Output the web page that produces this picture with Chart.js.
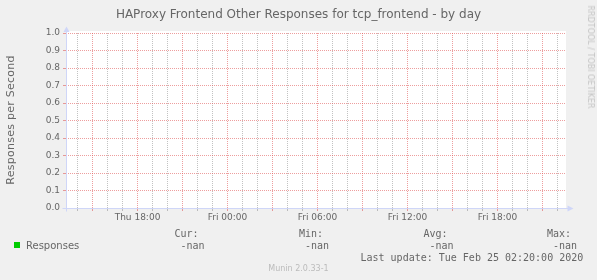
<!DOCTYPE html>
<html>
<head>
<meta charset="utf-8">
<script src="https://cdn.jsdelivr.net/npm/chart.js@4/dist/chart.umd.min.js"></script>
<style>
  html, body { margin: 0; padding: 0; background: #f0f0f0; }
  #wrap { position: relative; width: 597px; height: 280px; overflow: hidden; font-family: "DejaVu Sans"; color: #666; }
  #wrap canvas { position: absolute; left: 0; top: 0; }
  .t { position: absolute; white-space: pre; font-size: 10px; line-height: 10px; }
  .mono { font-family: "DejaVu Sans Mono"; }
</style>
</head>
<body>
<div id="wrap">
  <canvas id="grafico" width="597" height="280"></canvas>
  <div class="t" id="titulo" style="left:0; width:597px; top:8px; text-align:center; font-size:12px; line-height:12px;"></div>
  <div class="t" id="ylabel" style="left:10px; top:119.5px; font-size:11px; line-height:11px; letter-spacing:0.25px; transform:translate(-50%,-50%) rotate(-90deg);"></div>
  <div class="t" id="marca" style="left:589.5px; top:56.5px; font-size:8px; line-height:8px; color:#c4c4c4; transform:translate(-50%,-50%) rotate(90deg);">RRDTOOL / TOBI OETIKER</div>
  <div id="legenda"></div>
  <div class="t" id="versao" style="left:0; width:597px; top:265px; text-align:center; font-size:8px; line-height:8px; color:#bbb;">Munin 2.0.33-1</div>
</div>
<script>
const titulo = 'HAProxy Frontend Other Responses for tcp_frontend - by day';
const eixoY = 'Responses per Second';

// horas (Thu 00:00 = 0) das etiquetas do eixo x
const labelHours = [18, 24, 30, 36, 42];
const tickLabels = ['Thu 18:00', 'Fri 00:00', 'Fri 06:00', 'Fri 12:00', 'Fri 18:00'];
const yTicks = [0, 0.1, 0.2, 0.3, 0.4, 0.5, 0.6, 0.7, 0.8, 0.9, 1.0];

// serie sem dados (nan)
const serieNome = 'Responses';
const serieHoras = [18, 24, 30, 36, 42];
const serieValores = [null, null, null, null, null];

const statNomes = ['Cur:', 'Min:', 'Avg:', 'Max:'];
const statValores = ['-nan', '-nan', '-nan', '-nan'];
const ultimaAtualizacao = 'Last update: Tue Feb 25 02:20:00 2020';

const xMin = 13.2333, xMax = 46.5667;

const GRID = 'rgba(143,143,143,0.55)';
const MGRID = 'rgba(222,79,79,0.55)';
const EIXO = '#CFD6F8';

document.getElementById('titulo').textContent = titulo;
document.getElementById('ylabel').textContent = eixoY;

/* LEGENDA */
const leg = document.getElementById('legenda');
leg.innerHTML = `
  <div style="position:absolute;left:14px;top:242px;width:6px;height:6px;background:#00cc00"></div>
  <div class="t" style="left:26px;top:240.5px">${serieNome}</div>`;
const colX = [174.5, 299, 423.5, 547];
statNomes.forEach((n, i) => {
    leg.innerHTML += `<div class="t mono" style="left:${colX[i]}px;top:229px">${n}</div>`;
    leg.innerHTML += `<div class="t mono" style="left:${colX[i] + 6}px;top:241px">${statValores[i]}</div>`;
});
leg.innerHTML += `<div class="t mono" style="left:360.5px;top:253px">${ultimaAtualizacao}</div>`;

const gridHours = [];
for (let h = Math.ceil(xMin); h <= xMax; h++) gridHours.push(h);

const fundoPlugin = {
    id: 'fundo',
    beforeDraw(chart) {
        const {ctx, chartArea: a} = chart;
        ctx.save();
        ctx.fillStyle = '#ffffff';
        ctx.fillRect(a.left, a.top - 2, a.right - a.left, a.bottom - a.top + 2);
        ctx.restore();
    },
    afterDraw(chart) {
        const {ctx, chartArea: a} = chart;
        const x0 = Math.round(a.left) + 0.5, y0 = Math.round(a.bottom) + 0.5;
        ctx.save();
        ctx.strokeStyle = EIXO;
        ctx.fillStyle = EIXO;
        ctx.lineWidth = 1;
        ctx.beginPath();
        ctx.moveTo(x0 - 4, y0); ctx.lineTo(a.right + 3, y0);
        ctx.moveTo(x0, y0 + 3); ctx.lineTo(x0, a.top - 3);
        ctx.stroke();
        ctx.beginPath();
        ctx.moveTo(a.right + 1.5, y0 - 3); ctx.lineTo(a.right + 1.5, y0 + 3); ctx.lineTo(a.right + 7.5, y0);
        ctx.closePath(); ctx.fill();
        ctx.beginPath();
        ctx.moveTo(x0 - 3, a.top - 1); ctx.lineTo(x0 + 3, a.top - 1); ctx.lineTo(x0, a.top - 6.5);
        ctx.closePath(); ctx.fill();
        ctx.restore();
    }
};

new Chart(document.getElementById('grafico'), {
    type: 'line',
    data: {
        datasets: [{
            label: serieNome,
            data: serieHoras.map((h, i) => ({x: h, y: serieValores[i]})),
            borderColor: '#00cc00',
            borderWidth: 1,
            pointRadius: 0
        }]
    },
    options: {
        responsive: false,
        animation: false,
        layout: { padding: { left: 0, top: 33, right: 31, bottom: 52 } },
        plugins: { legend: { display: false }, tooltip: { enabled: false } },
        scales: {
            x: {
                type: 'linear',
                min: xMin,
                max: xMax,
                afterBuildTicks: s => { s.ticks = gridHours.map(v => ({value: v})); },
                afterFit: s => { s.height = 20; },
                grid: {
                    color: c => (c.tick && c.tick.value % 3 === 0) ? MGRID : GRID,
                    tickColor: c => (c.tick && c.tick.value % 3 === 0) ? MGRID : GRID,
                    tickLength: 3
                },
                border: { display: false, dash: [1, 1] },
                ticks: {
                    autoSkip: false,
                    maxRotation: 0,
                    padding: 1,
                    color: '#666',
                    font: { family: 'DejaVu Sans', size: 9 },
                    callback: v => {
                        const i = labelHours.indexOf(v);
                        return i >= 0 ? tickLabels[i] : '';
                    }
                }
            },
            y: {
                min: 0,
                max: 1,
                afterBuildTicks: s => { s.ticks = yTicks.map(v => ({value: v})); },
                afterFit: s => { s.width = 66; },
                grid: { color: MGRID, tickColor: MGRID, tickLength: 3 },
                border: { display: false, dash: [1, 1] },
                ticks: {
                    padding: 3,
                    color: '#666',
                    font: { family: 'DejaVu Sans', size: 9 },
                    callback: v => v.toFixed(1)
                }
            }
        }
    },
    plugins: [fundoPlugin]
});
</script>
</body>
</html>
